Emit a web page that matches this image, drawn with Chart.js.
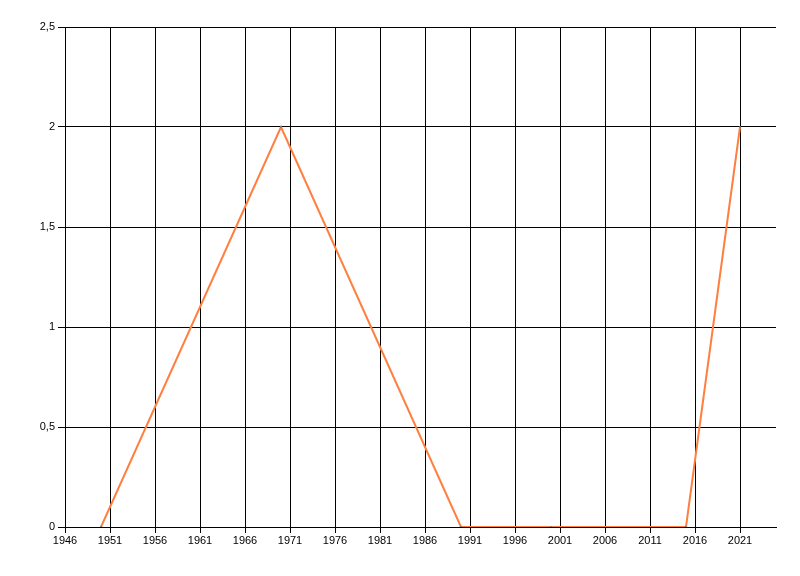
<!DOCTYPE html>
<html>
<head>
<meta charset="utf-8">
<script src="https://cdn.jsdelivr.net/npm/chart.js@4/dist/chart.umd.min.js"></script>
<style>
html,body{margin:0;padding:0;background:#fff;}
#wrap{width:800px;height:576px;}
</style>
</head>
<body>
<div id="wrap"><canvas id="c" width="800" height="576"></canvas></div>
<script>
const years = [1950, 1970, 1990, 2000, 2015, 2021];
const values = [0, 2, 0, 0, 0, 2];
const xTicks = [1946, 1951, 1956, 1961, 1966, 1971, 1976, 1981, 1986, 1991, 1996, 2001, 2006, 2011, 2016, 2021];
const yTicks = [0, 0.5, 1, 1.5, 2, 2.5];

const font = {family: '"Liberation Sans", Arial, sans-serif', size: 11};

new Chart(document.getElementById('c'), {
  type: 'line',
  data: {
    datasets: [{
      data: years.map((y, i) => ({x: y, y: values[i]})),
      borderColor: '#FF7F3F',
      borderWidth: 2,
      pointRadius: 1,
      pointBackgroundColor: '#777',
      pointBorderWidth: 0,
      tension: 0,
      fill: false
    }]
  },
  options: {
    responsive: false,
    animation: false,
    devicePixelRatio: 1,
    layout: {padding: {left: 0, right: 24, top: 27, bottom: 0}},
    plugins: {legend: {display: false}, tooltip: {enabled: false}},
    scales: {
      x: {
        type: 'linear',
        min: 1946,
        max: 2025,
        afterBuildTicks: s => { s.ticks = xTicks.map(v => ({value: v})); },
        afterFit: s => { s.height = 49; },
        grid: {color: '#000', lineWidth: 1, tickLength: 6, drawTicks: true},
        border: {display: true, color: '#000', width: 1},
        ticks: {color: '#000', font: font, padding: 1, maxRotation: 0, autoSkip: false, callback: v => String(v)}
      },
      y: {
        type: 'linear',
        min: 0,
        max: 2.5,
        afterBuildTicks: s => { s.ticks = yTicks.map(v => ({value: v})); },
        afterFit: s => { s.width = 65; },
        grid: {color: '#000', lineWidth: 1, tickLength: 7, drawTicks: true},
        border: {display: true, color: '#000', width: 1},
        ticks: {color: '#000', font: font, padding: 3, callback: v => String(v).replace('.', ',')}
      }
    }
  }
});
</script>
</body>
</html>
